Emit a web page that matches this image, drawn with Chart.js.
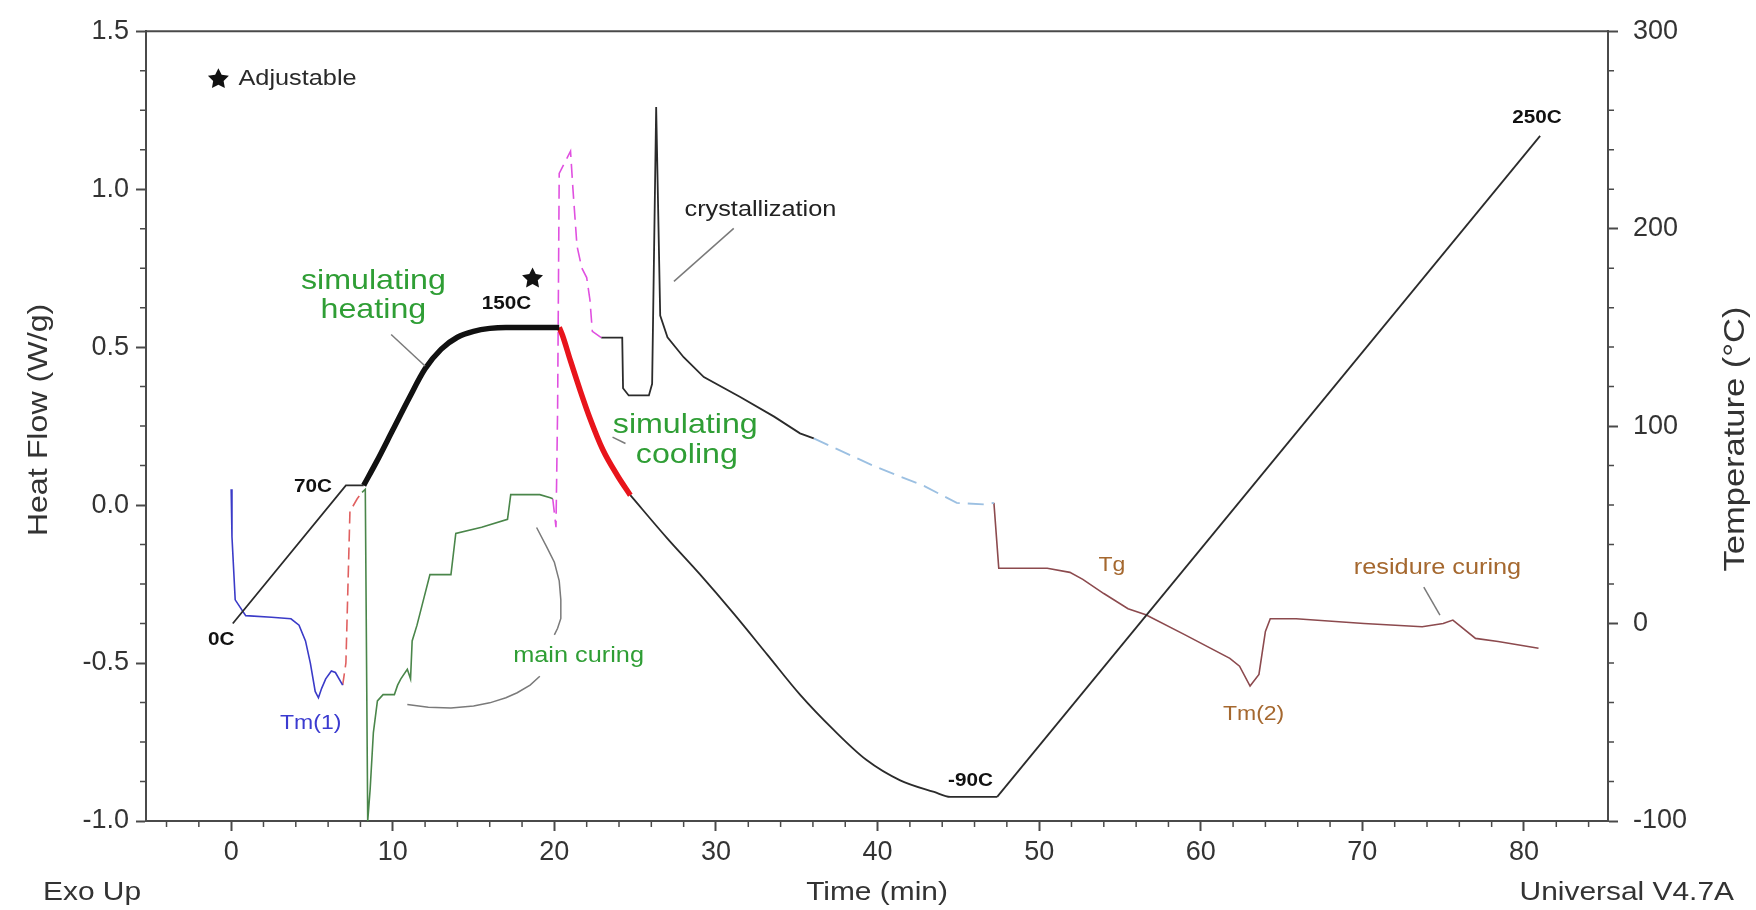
<!DOCTYPE html>
<html lang="en">
<head>
<meta charset="UTF-8">
<title>DSC Heat Flow and Temperature</title>
<script src="https://cdn.jsdelivr.net/npm/chart.js"></script>
<style>
    html, body { margin: 0; padding: 0; background: #fff; }
    #wrap { width: 1756px; height: 910px; }
</style>
</head>
<body>
<div id="wrap"><canvas id="dscChart" width="1756" height="910"></canvas></div>

<script>
    // ---- axis ticks ----
    const timeTicks = [0, 10, 20, 30, 40, 50, 60, 70, 80];
    const flowTicks = [-1.0, -0.5, 0.0, 0.5, 1.0, 1.5];
    const tempTicks = [-100, 0, 100, 200, 300];

    // ---- temperature program (right axis, °C) ----
    const rampTime = [0.1, 7.1, 8.2];
    const rampTemp = [0, 70, 70];
    const heatTime = [8.2, 9.0, 10.0, 11.0, 12.0, 13.0, 14.0, 15.0, 16.0, 17.0, 20.3];
    const heatTemp = [70, 82, 98, 114, 129, 139, 145, 148, 149.5, 150, 150];
    const coolRedTime = [20.3, 20.5, 21.0, 21.6, 22.2, 23.0, 23.9, 24.7];
    const coolRedTemp = [150, 146, 133, 118, 104, 88, 75, 65];
    const coolTime = [24.7, 27.0, 29.0, 31.1, 33.2, 35.2, 37.3, 39.3, 41.4, 43.5, 44.5, 47.4];
    const coolTemp = [65, 43, 25, 5, -16, -36, -54, -69, -79.4, -85.3, -87.8, -87.8];
    const riseTime = [47.4, 81.0];
    const riseTemp = [-87.8, 247];

    // ---- heat flow segments (left axis, W/g) ----
    const tm1Time = [0.0, 0.05, 0.25, 0.9, 2.5, 3.7, 4.2, 4.6, 4.9, 5.2, 5.4, 5.6, 5.85, 6.2, 6.45, 6.9];
    const tm1Flow = [0.05, -0.1, -0.3, -0.35, -0.355, -0.36, -0.38, -0.43, -0.5, -0.59, -0.61, -0.58, -0.55, -0.525, -0.53, -0.57];
    const jumpTime = [6.9, 7.1, 7.35, 7.8, 8.1];
    const jumpFlow = [-0.57, -0.5, -0.02, 0.02, 0.04];
    const cureTime = [8.1, 8.3, 8.45, 8.6, 8.8, 9.05, 9.4, 10.1, 10.3, 10.5, 10.9, 11.1, 11.2, 11.5, 11.8, 12.3, 13.6, 13.9, 15.5, 17.1, 17.3, 19.1, 19.75, 19.9];
    const cureFlow = [0.04, 0.05, -1.0, -0.9, -0.72, -0.62, -0.6, -0.6, -0.57, -0.55, -0.52, -0.55, -0.43, -0.38, -0.32, -0.22, -0.22, -0.09, -0.07, -0.045, 0.033, 0.033, 0.023, 0.02];
    const peakTime = [19.9, 20.1, 20.2, 20.3, 20.6, 21.0, 21.15, 21.4, 21.7, 22.0, 22.2, 22.35, 22.9];
    const peakFlow = [0.02, -0.07, 0.3, 1.05, 1.08, 1.12, 1.0, 0.82, 0.75, 0.72, 0.65, 0.55, 0.53];
    const crystTime = [22.9, 24.2, 24.25, 24.6, 25.85, 26.05, 26.3, 26.55, 27.0, 28.0, 29.25, 31.5, 33.6, 35.2, 36.05];
    const crystFlow = [0.53, 0.53, 0.37, 0.347, 0.347, 0.384, 1.26, 0.6, 0.531, 0.468, 0.405, 0.342, 0.28, 0.227, 0.211];
    const holdTime = [36.05, 39.8, 42.9, 44.9, 46.6, 47.2];
    const holdFlow = [0.211, 0.123, 0.06, 0.007, 0.002, 0.007];
    const reheatTime = [47.2, 47.5, 50.5, 51.9, 52.7, 54.0, 55.5, 56.6, 59.0, 61.8, 62.4, 63.05, 63.6, 64.0, 64.3, 65.9, 70.1, 73.7, 75.0, 75.6, 77.0, 78.4, 80.9];
    const reheatFlow = [0.007, -0.2, -0.2, -0.213, -0.235, -0.28, -0.328, -0.347, -0.41, -0.485, -0.51, -0.573, -0.536, -0.4, -0.36, -0.36, -0.375, -0.385, -0.375, -0.364, -0.422, -0.432, -0.453];

    // ---- annotations (time, heat flow) ----
    const green = '#2f9e35';
    const brown = '#a5682f';
    const notes = [
        { text: 'Adjustable', t: 0.45, hf: 1.348, size: 22, color: '#2a2a2a', align: 'left' },
        { text: 'simulating', t: 8.8, hf: 0.709, size: 28, color: green },
        { text: 'heating', t: 8.8, hf: 0.617, size: 28, color: green },
        { text: '150C', t: 17.04, hf: 0.635, size: 18, color: '#111', bold: true },
        { text: 'crystallization', t: 32.75, hf: 0.934, size: 22, color: '#222' },
        { text: 'simulating', t: 28.1, hf: 0.253, size: 28, color: green },
        { text: 'cooling', t: 28.2, hf: 0.159, size: 28, color: green },
        { text: '70C', t: 5.06, hf: 0.058, size: 18, color: '#111', bold: true },
        { text: '0C', t: -0.62, hf: -0.427, size: 18, color: '#111', bold: true },
        { text: 'Tm(1)', t: 4.92, hf: -0.691, size: 20, color: '#3b3bd0' },
        { text: 'main curing', t: 21.5, hf: -0.476, size: 22, color: green },
        { text: '-90C', t: 45.75, hf: -0.874, size: 18, color: '#111', bold: true },
        { text: '250C', t: 80.8, hf: 1.226, size: 18, color: '#111', bold: true },
        { text: 'Tg', t: 54.5, hf: -0.19, size: 20, color: brown },
        { text: 'Tm(2)', t: 63.27, hf: -0.662, size: 20, color: brown },
        { text: 'residure curing', t: 74.65, hf: -0.2, size: 22, color: brown }
    ];
    const stars = [[-0.79, 1.348], [18.65, 0.717]];
    const leaders = [
        [[9.9, 0.54], [12.0, 0.44]],
        [[31.1, 0.876], [27.4, 0.708]],
        [[24.4, 0.195], [23.6, 0.215]],
        [[10.9, -0.631], [12.2, -0.64], [13.6, -0.642], [15.0, -0.636], [16.0, -0.626], [17.0, -0.61], [17.7, -0.594], [18.5, -0.57], [19.1, -0.542]],
        [[18.9, -0.071], [19.5, -0.13], [20.0, -0.181], [20.3, -0.24], [20.4, -0.3], [20.4, -0.359], [20.2, -0.39], [20.0, -0.411]],
        [[73.8, -0.26], [74.8, -0.348]]
    ];

    const axisColor = '#4a4a4a';
    const fontFamily = "'Liberation Sans', Arial, sans-serif";

    function pts(xs, ys) {
        return xs.map((x, i) => ({ x: x, y: ys[i] }));
    }

    function series(label, xs, ys, axis, color, width, dash, smooth) {
        return {
            label: label,
            data: pts(xs, ys),
            yAxisID: axis,
            borderColor: color,
            borderWidth: width,
            borderDash: dash || [],
            pointRadius: 0,
            fill: false,
            tension: 0,
            cubicInterpolationMode: smooth ? 'monotone' : 'default'
        };
    }

    // draw text stretched along its own direction (the source image is a bit wide)
    function putText(ctx, txt, x, y, size, color, align, rot, bold) {
        ctx.save();
        ctx.translate(x, y);
        if (rot) ctx.rotate(rot);
        ctx.scale(1.15, 1);
        ctx.font = (bold ? 'bold ' : '') + size + 'px ' + fontFamily;
        ctx.fillStyle = color;
        ctx.textAlign = align || 'center';
        ctx.textBaseline = 'middle';
        ctx.fillText(txt, 0, 0);
        ctx.restore();
    }

    function drawStar(ctx, cx, cy, r) {
        ctx.beginPath();
        for (let i = 0; i < 10; i++) {
            const rad = i % 2 === 0 ? r : r * 0.5;
            const ang = -Math.PI / 2 + i * Math.PI / 5;
            const px = cx + rad * Math.cos(ang), py = cy + rad * Math.sin(ang);
            if (i === 0) ctx.moveTo(px, py); else ctx.lineTo(px, py);
        }
        ctx.closePath();
        ctx.fill();
    }

    const decor = {
        id: 'decor',
        afterDraw(chart) {
            const { ctx, chartArea: a, scales } = chart;
            const sx = scales.x, sy = scales.y, st = scales.yT;
            ctx.save();

            // top frame line
            ctx.strokeStyle = axisColor;
            ctx.lineWidth = 2;
            ctx.beginPath();
            ctx.moveTo(a.left - 1, a.top);
            ctx.lineTo(a.right + 1, a.top);
            ctx.stroke();

            // minor ticks
            ctx.lineWidth = 1.5;
            ctx.beginPath();
            for (let v = -4; v <= 84; v += 2) {
                if (v % 10 === 0) continue;
                const p = sx.getPixelForValue(v);
                ctx.moveTo(p, a.bottom); ctx.lineTo(p, a.bottom + 6);
            }
            for (let k = -8; k <= 12; k++) {
                if (k % 4 === 0) continue;
                const p = sy.getPixelForValue(k * 0.125);
                ctx.moveTo(a.left, p); ctx.lineTo(a.left - 6, p);
            }
            for (let v = -80; v < 300; v += 20) {
                if (v % 100 === 0) continue;
                const p = st.getPixelForValue(v);
                ctx.moveTo(a.right, p); ctx.lineTo(a.right + 6, p);
            }
            ctx.stroke();

            // leader lines
            ctx.strokeStyle = '#7a7a7a';
            ctx.lineWidth = 1.5;
            leaders.forEach(pl => {
                ctx.beginPath();
                pl.forEach((q, i) => {
                    const px = sx.getPixelForValue(q[0]), py = sy.getPixelForValue(q[1]);
                    if (i === 0) ctx.moveTo(px, py); else ctx.lineTo(px, py);
                });
                ctx.stroke();
            });

            // stars
            ctx.fillStyle = '#111';
            stars.forEach(s => drawStar(ctx, sx.getPixelForValue(s[0]), sy.getPixelForValue(s[1]), 11));

            // annotation text
            notes.forEach(n => {
                putText(ctx, n.text, sx.getPixelForValue(n.t), sy.getPixelForValue(n.hf),
                        n.size, n.color, n.align, 0, n.bold);
            });

            // axis titles and footer
            putText(ctx, 'Heat Flow (W/g)', 39, 420, 28, '#333', 'center', -Math.PI / 2);
            putText(ctx, 'Temperature (\u00B0C)', 1736, 439, 30, '#333', 'center', -Math.PI / 2);
            putText(ctx, 'Exo Up', 43, 893, 26, '#333', 'left');
            putText(ctx, 'Time (min)', (a.left + a.right) / 2, 893, 26, '#333', 'center');
            putText(ctx, 'Universal V4.7A', 1734, 893, 26, '#333', 'right');

            ctx.restore();
        }
    };

    const tickFont = { size: 27, family: fontFamily };

    new Chart(document.getElementById('dscChart').getContext('2d'), {
        type: 'line',
        data: {
            datasets: [
                series('Heating program', heatTime, heatTemp, 'yT', '#111', 5.5, null, true),
                series('Cooling program', coolRedTime, coolRedTemp, 'yT', '#e8141b', 5.5, null, true),
                series('Ramp 0-70C', rampTime, rampTemp, 'yT', '#2b2b2b', 1.8),
                series('Cooling to -90C', coolTime, coolTemp, 'yT', '#2b2b2b', 1.8, null, true),
                series('Ramp to 250C', riseTime, riseTemp, 'yT', '#2b2b2b', 1.8),
                series('Tm(1)', tm1Time, tm1Flow, 'y', '#3b3bc8', 1.6),
                series('Jump', jumpTime, jumpFlow, 'y', '#e06060', 1.6, [12, 6]),
                series('Main curing', cureTime, cureFlow, 'y', '#4a864a', 1.6),
                series('Peak', peakTime, peakFlow, 'y', '#e050e0', 1.6, [14, 7]),
                series('Crystallization', crystTime, crystFlow, 'y', '#2b2b2b', 1.8),
                series('Hold', holdTime, holdFlow, 'y', '#9cc0e2', 1.8, [16, 8]),
                series('Reheat', reheatTime, reheatFlow, 'y', '#8c4a4e', 1.6)
            ]
        },
        options: {
            responsive: false,
            animation: false,
            layout: { padding: { top: 25, left: 0, right: 0, bottom: 0 } },
            plugins: { legend: { display: false }, tooltip: { enabled: false } },
            scales: {
                x: {
                    type: 'linear',
                    min: -5.27,
                    max: 85.2,
                    afterBuildTicks: s => { s.ticks = timeTicks.map(v => ({ value: v })); },
                    afterFit: s => { s.height = 89; },
                    border: { display: true, color: axisColor, width: 2 },
                    grid: { drawOnChartArea: false, tickLength: 10, tickColor: axisColor, tickWidth: 2 },
                    ticks: { color: '#333', font: tickFont, padding: 5, maxRotation: 0, autoSkip: false,
                             callback: v => String(v) }
                },
                y: {
                    position: 'left',
                    min: -1.0,
                    max: 1.5,
                    afterBuildTicks: s => { s.ticks = flowTicks.map(v => ({ value: v })); },
                    afterFit: s => { s.width = 146; },
                    border: { display: true, color: axisColor, width: 2 },
                    grid: { drawOnChartArea: false, tickLength: 10, tickColor: axisColor, tickWidth: 2 },
                    ticks: { color: '#333', font: tickFont, padding: 7, autoSkip: false,
                             callback: v => Number(v).toFixed(1) }
                },
                yT: {
                    position: 'right',
                    min: -100,
                    max: 300,
                    afterBuildTicks: s => { s.ticks = tempTicks.map(v => ({ value: v })); },
                    afterFit: s => { s.width = 148; },
                    border: { display: true, color: axisColor, width: 2 },
                    grid: { drawOnChartArea: false, tickLength: 10, tickColor: axisColor, tickWidth: 2 },
                    ticks: { color: '#333', font: tickFont, padding: 15, autoSkip: false,
                             callback: v => String(v) }
                }
            }
        },
        plugins: [decor]
    });
</script>
</body>
</html>
